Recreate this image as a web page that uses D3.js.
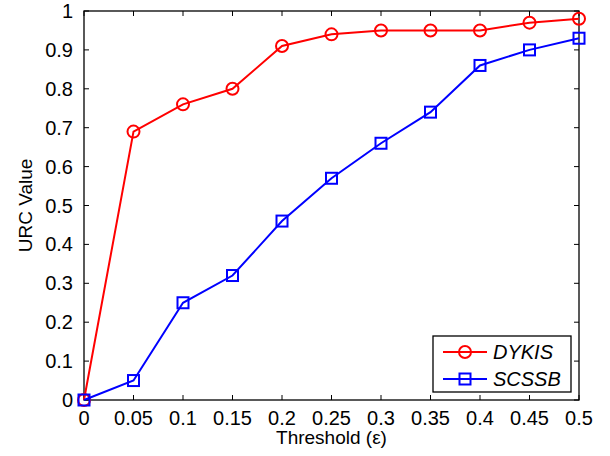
<!DOCTYPE html>
<html>
<head>
<meta charset="utf-8">
<script src="https://cdn.jsdelivr.net/npm/d3@7/dist/d3.min.js"></script>
<style>
  body { margin: 0; background: #fff; }
  svg text { font-family: "Liberation Sans", Arial, sans-serif; fill: #000; }
</style>
</head>
<body>
<svg id="chart" width="610" height="456"></svg>
<script>
// thresholds on the x axis
var thresholds = [0, 0.05, 0.1, 0.15, 0.2, 0.25, 0.3, 0.35, 0.4, 0.45, 0.5];
var dykis = [0, 0.69, 0.76, 0.80, 0.91, 0.94, 0.95, 0.95, 0.95, 0.97, 0.98];
var scssb = [0, 0.05, 0.25, 0.32, 0.46, 0.57, 0.66, 0.74, 0.86, 0.90, 0.93];
var xTicks = [0, 0.05, 0.1, 0.15, 0.2, 0.25, 0.3, 0.35, 0.4, 0.45, 0.5];
var yTicks = [0, 0.1, 0.2, 0.3, 0.4, 0.5, 0.6, 0.7, 0.8, 0.9, 1];
var seriesNames = ["DYKIS", "SCSSB"];
var seriesColors = ["#ff0000", "#0000ff"];

(function () {
  var svg = d3.select("#chart");
  var mLeft = 84, mRight = 579, mTop = 11, mBottom = 400;

  var x = d3.scaleLinear().domain([0, 0.5]).range([mLeft, mRight]);
  var y = d3.scaleLinear().domain([0, 1]).range([mBottom, mTop]);

  var fmt = function (d) { return String(+d.toFixed(2)); };

  // box
  svg.append("rect")
    .attr("x", mLeft).attr("y", mTop)
    .attr("width", mRight - mLeft).attr("height", mBottom - mTop)
    .attr("fill", "none").attr("stroke", "#000").attr("stroke-width", 1.3);

  // ticks (inward, on all four sides)
  var tl = 5;
  var g = svg.append("g").attr("stroke", "#000").attr("stroke-width", 1);
  xTicks.forEach(function (t) {
    g.append("line").attr("x1", x(t)).attr("x2", x(t)).attr("y1", mBottom).attr("y2", mBottom - tl);
    g.append("line").attr("x1", x(t)).attr("x2", x(t)).attr("y1", mTop).attr("y2", mTop + tl);
  });
  yTicks.forEach(function (t) {
    g.append("line").attr("x1", mLeft).attr("x2", mLeft + tl).attr("y1", y(t)).attr("y2", y(t));
    g.append("line").attr("x1", mRight).attr("x2", mRight - tl).attr("y1", y(t)).attr("y2", y(t));
  });

  svg.append("g").selectAll("text").data(xTicks).enter().append("text")
    .attr("x", function (d) { return x(d); })
    .attr("y", 425)
    .attr("text-anchor", "middle")
    .attr("font-size", 20)
    .text(fmt);

  svg.append("g").selectAll("text").data(yTicks).enter().append("text")
    .attr("x", 73)
    .attr("y", function (d) { return y(d) + 7; })
    .attr("text-anchor", "end")
    .attr("font-size", 20)
    .text(fmt);

  svg.append("text")
    .attr("x", (mLeft + mRight) / 2).attr("y", 444)
    .attr("text-anchor", "middle").attr("font-size", 19)
    .text("Threshold (\u03b5)");

  svg.append("text")
    .attr("transform", "translate(32," + ((mTop + mBottom) / 2) + ") rotate(-90)")
    .attr("text-anchor", "middle").attr("font-size", 19)
    .text("URC Value");

  var line = d3.line()
    .x(function (d, i) { return x(thresholds[i]); })
    .y(function (d) { return y(d); });

  function drawMarker(sel, kind, color, cx, cy) {
    if (kind === 0) {
      sel.append("circle").attr("cx", cx).attr("cy", cy).attr("r", 6)
        .attr("fill", "none").attr("stroke", color).attr("stroke-width", 2);
    } else {
      sel.append("rect").attr("x", cx - 5.5).attr("y", cy - 5.5)
        .attr("width", 11).attr("height", 11)
        .attr("fill", "none").attr("stroke", color).attr("stroke-width", 2);
    }
  }

  [dykis, scssb].forEach(function (vals, k) {
    var sg = svg.append("g");
    sg.append("path").attr("d", line(vals))
      .attr("fill", "none").attr("stroke", seriesColors[k]).attr("stroke-width", 2);
    vals.forEach(function (v, i) {
      drawMarker(sg, k, seriesColors[k], x(thresholds[i]), y(v));
    });
  });

  // legend
  var lg = svg.append("g");
  lg.append("rect").attr("x", 433).attr("y", 336).attr("width", 138).attr("height", 56)
    .attr("fill", "#fff").attr("stroke", "#000").attr("stroke-width", 1.3);
  seriesNames.forEach(function (name, k) {
    var ly = 352 + k * 27;
    lg.append("line").attr("x1", 443).attr("x2", 487).attr("y1", ly).attr("y2", ly)
      .attr("stroke", seriesColors[k]).attr("stroke-width", 2);
    drawMarker(lg, k, seriesColors[k], 465, ly);
    lg.append("text").attr("x", 493).attr("y", ly + 7)
      .attr("font-size", 20).attr("font-style", "italic").text(name);
  });
})();
</script>
</body>
</html>
